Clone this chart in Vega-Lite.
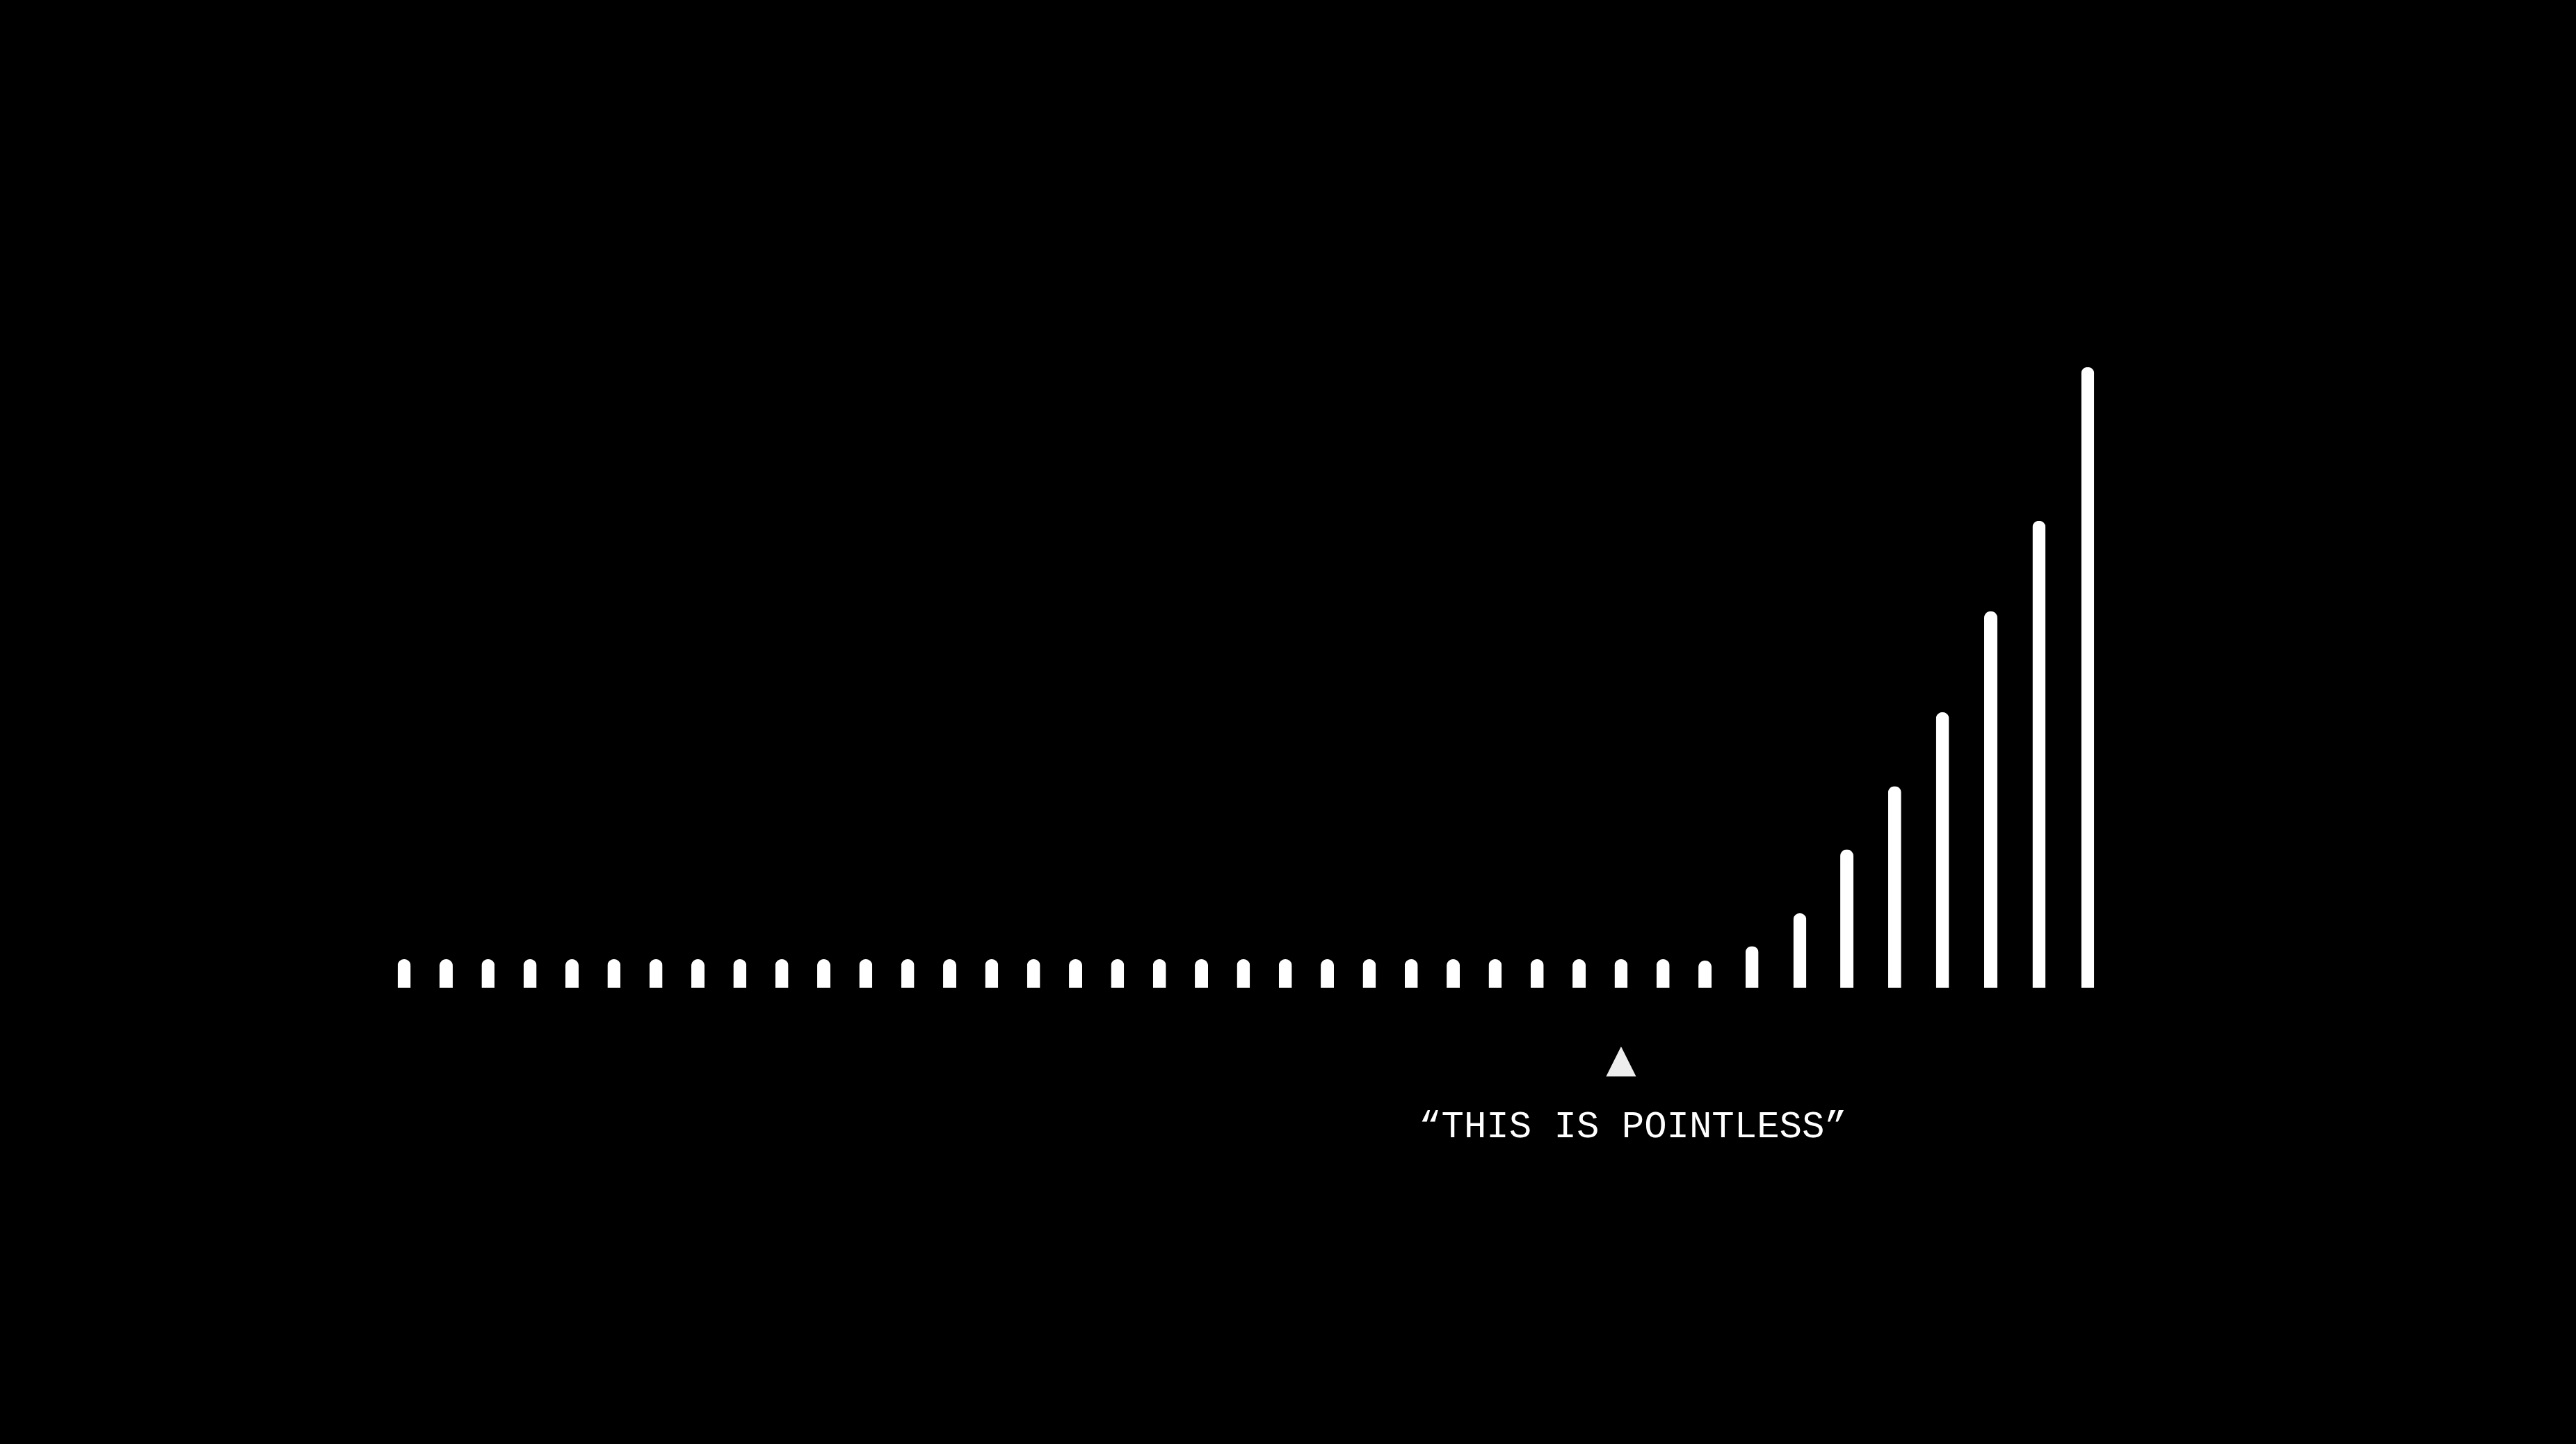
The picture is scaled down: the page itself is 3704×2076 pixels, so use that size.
{
  "$schema": "https://vega.github.io/schema/vega-lite/v6.json",
  "width": 3704,
  "height": 2076,
  "autosize": {"type": "fit", "contains": "padding"},
  "padding": 0,
  "background": "#000000",
  "config": {"view": {"stroke": null}},
  "layer": [
    {
      "data": {"values": [
        {"i": 0, "v": 1}, {"i": 1, "v": 1}, {"i": 2, "v": 1}, {"i": 3, "v": 1},
        {"i": 4, "v": 1}, {"i": 5, "v": 1}, {"i": 6, "v": 1}, {"i": 7, "v": 1},
        {"i": 8, "v": 1}, {"i": 9, "v": 1}, {"i": 10, "v": 1}, {"i": 11, "v": 1},
        {"i": 12, "v": 1}, {"i": 13, "v": 1}, {"i": 14, "v": 1}, {"i": 15, "v": 1},
        {"i": 16, "v": 1}, {"i": 17, "v": 1}, {"i": 18, "v": 1}, {"i": 19, "v": 1},
        {"i": 20, "v": 1}, {"i": 21, "v": 1}, {"i": 22, "v": 1}, {"i": 23, "v": 1},
        {"i": 24, "v": 1}, {"i": 25, "v": 1}, {"i": 26, "v": 1}, {"i": 27, "v": 1},
        {"i": 28, "v": 1}, {"i": 29, "v": 1}, {"i": 30, "v": 1}, {"i": 31, "v": 0.95},
        {"i": 32.12, "v": 1.46}, {"i": 33.26, "v": 2.61}, {"i": 34.38, "v": 4.85},
        {"i": 35.52, "v": 7.07}, {"i": 36.66, "v": 9.66}, {"i": 37.81, "v": 13.2},
        {"i": 38.96, "v": 16.37}, {"i": 40.12, "v": 21.76}
      ]},
      "mark": {"type": "bar", "width": 19, "color": "#ffffff", "cornerRadiusTopLeft": 9.5, "cornerRadiusTopRight": 9.5},
      "encoding": {
        "x": {"field": "i", "type": "quantitative", "scale": {"domain": [-9.549, 51.674], "nice": false, "zero": false}, "axis": null},
        "y": {"field": "v", "type": "quantitative", "scale": {"domain": [-16.0, 34.634], "nice": false, "zero": false}, "axis": null}
      }
    },
    {
      "data": {"values": [{"i": 29, "v": -2.585}]},
      "mark": {"type": "point", "shape": "M0,-1L-1,1L1,1Z", "size": 1849, "filled": true, "fill": "#eeeeee", "opacity": 1, "strokeWidth": 0},
      "encoding": {
        "x": {"field": "i", "type": "quantitative", "scale": {"domain": [-9.549, 51.674], "nice": false, "zero": false}, "axis": null},
        "y": {"field": "v", "type": "quantitative", "scale": {"domain": [-16.0, 34.634], "nice": false, "zero": false}, "axis": null}
      }
    },
    {
      "data": {"values": [{"i": 29, "v": -5.244, "label": "“THIS IS POINTLESS”"}]},
      "mark": {"type": "text", "font": "Liberation Mono", "fontWeight": "normal", "fontSize": 54, "color": "#ffffff", "align": "center", "baseline": "alphabetic", "dx": 17},
      "encoding": {
        "x": {"field": "i", "type": "quantitative", "scale": {"domain": [-9.549, 51.674], "nice": false, "zero": false}, "axis": null},
        "y": {"field": "v", "type": "quantitative", "scale": {"domain": [-16.0, 34.634], "nice": false, "zero": false}, "axis": null},
        "text": {"field": "label"}
      }
    }
  ]
}
